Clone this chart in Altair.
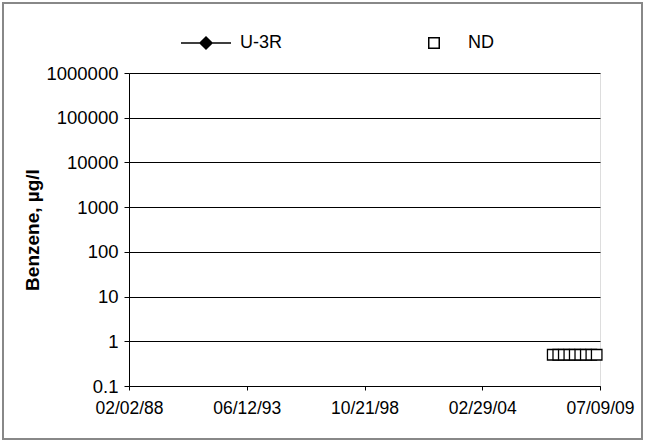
import altair as alt
import pandas as pd

# ND (non-detect) samples for well U-3R, plotted at half the reporting limit
nd_dates = ["2007-05-15", "2007-08-15", "2007-11-15", "2008-02-15", "2008-05-15",
            "2008-08-15", "2008-11-15", "2009-02-15", "2009-05-15"]
nd_values = [0.5, 0.5, 0.5, 0.5, 0.5, 0.5, 0.5, 0.5, 0.5]
series_names = ["U-3R", "ND"]
y_ticks = [0.1, 1, 10, 100, 1000, 10000, 100000, 1000000]
x_tick_dates = [(1988, 2, 2), (1993, 6, 12), (1998, 10, 21), (2004, 2, 29), (2009, 7, 9)]

df = pd.DataFrame({"date": nd_dates, "value": nd_values, "series": ["ND"] * len(nd_dates)})

W, H = 471, 313
FONT = "Liberation Sans"

line_diamond = "M-1,0 L1,0 M0,-0.24 L0.24,0 L0,0.24 L-0.24,0 Z"
square = "M-0.21,-0.21 L0.21,-0.21 L0.21,0.21 L-0.21,0.21 Z"

def dt(t):
    return alt.DateTime(year=t[0], month=t[1], date=t[2], utc=True)

x_enc = alt.X(
    "date:T",
    scale=alt.Scale(type="utc", domain=[dt(x_tick_dates[0]), dt(x_tick_dates[-1])], nice=False),
    axis=alt.Axis(values=[dt(t) for t in x_tick_dates],
                  labelExpr="utcFormat(datum.value, '%m/%d/%y')",
                  title=None, grid=False, tickSize=4, labelPadding=9,
                  labelFontSize=17.5, labelFont=FONT, labelColor="black",
                  domainColor="black", tickColor="black", labelFlush=False),
)
y_enc = alt.Y(
    "value:Q",
    scale=alt.Scale(type="log", domain=[0.1, 1000000], nice=False),
    axis=alt.Axis(values=y_ticks,
                  labelExpr="datum.value >= 1 ? format(datum.value, 'd') : '0.1'",
                  title="Benzene, µg/l", titleFontSize=19, titleFont=FONT,
                  titleFontWeight="bold", titleColor="black",
                  titleX=-97, titleY=H / 2, titleAngle=270, titleAlign="center",
                  titleBaseline="middle",
                  grid=True, gridColor="black", gridWidth=1, tickSize=5,
                  labelPadding=6, labelFontSize=18.5, labelFont=FONT,
                  labelColor="black", domainColor="black", tickColor="black"),
)

points = alt.Chart(df).mark_point(filled=False, strokeWidth=1.3, opacity=1).encode(
    x=x_enc,
    y=y_enc,
    shape=alt.Shape("series:N", scale=alt.Scale(domain=series_names, range=[line_diamond, square]),
                    legend=alt.Legend(title=None, orient="none", legendX=51, legendY=-56,
                                      direction="horizontal", columnPadding=125,
                                      symbolSize=2500, symbolStrokeWidth=1.5,
                                      labelFontSize=18, labelFont=FONT, labelColor="black",
                                      labelOffset=8)),
    fill=alt.Fill("series:N", scale=alt.Scale(domain=series_names, range=["black", "white"])),
    stroke=alt.value("black"),
    size=alt.value(2500),
)

frame = alt.Chart(pd.DataFrame({"a": [0]})).mark_rect(
    fill=None, stroke="#888888", strokeWidth=2
).encode(
    x=alt.value(-126), x2=alt.value(513), y=alt.value(-70), y2=alt.value(366)
)

chart = alt.layer(frame, points).properties(
    width=W, height=H,
    autosize=alt.AutoSizeParams(type="none"),
    padding={"left": 129, "top": 73, "right": 51, "bottom": 56},
).configure_view(stroke="black", strokeWidth=1).configure(background="white")

chart.save("out.html", embed_options={"renderer": "svg", "actions": False})
